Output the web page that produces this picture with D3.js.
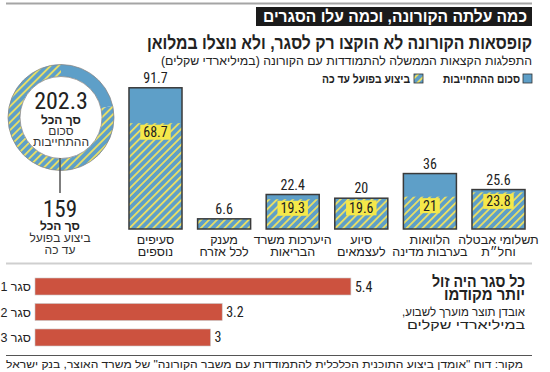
<!DOCTYPE html>
<html><head><meta charset="utf-8">
<script src="https://cdn.jsdelivr.net/npm/d3@7"></script>
<style>
html,body{margin:0;padding:0;background:#fff;}
svg{display:block;}
</style></head>
<body>
<svg id="chart" width="550" height="372"></svg>
<script>
// ---- data ----
const categories = ["תשלומי אבטלה\nוחל״ת", "הלוואות\nבערבות מדינה", "סיוע\nלעצמאים", "היערכות משרד\nהבריאות", "מענק\nלכל אזרח", "סעיפים\nנוספים"];
const commitments = [25.6, 36, 20, 22.4, 6.6, 91.7];
const executed = [23.8, 21, 19.6, 19.3, 6.6, 68.7];
const lockdowns = ["סגר 1", "סגר 2", "סגר 3"];
const weeklyLoss = [5.4, 3.2, 3];
const legendLabels = ["סכום ההתחייבות", "ביצוע בפועל עד כה"];

const HEB = "'Liberation Sans','DejaVu Sans',sans-serif";
const NUM = "'Liberation Sans Narrow','Roboto Condensed','DejaVu Sans Condensed','Liberation Sans',sans-serif";
const BLUE = "#5e9fc8", YEL = "#ebe063", LBLUE = "#f5e84a", RED = "#cc523f", DARK = "#222";

const svg = d3.select("#chart");
const defs = svg.append("defs");
const pat = defs.append("pattern").attr("id","hatch").attr("patternUnits","userSpaceOnUse")
  .attr("width",5.6).attr("height",5.6).attr("patternTransform","rotate(45)");
pat.append("rect").attr("width",5.6).attr("height",5.6).attr("fill",BLUE);
pat.append("rect").attr("x",0).attr("width",1.8).attr("height",5.6).attr("fill",YEL);

function heb(sel){ return sel.attr("direction","rtl").attr("font-family",HEB); }

// ---- header ----
svg.append("line").attr("x1",6).attr("x2",532).attr("y1",3.5).attr("y2",3.5).attr("stroke","#a5a5a5").attr("stroke-width",2);
svg.append("rect").attr("x",256).attr("y",7).attr("width",276).attr("height",19).attr("fill","#1b1b1b");
heb(svg.append("text")).attr("x",527).attr("y",22).attr("text-anchor","start")
  .attr("font-size",16.5).attr("font-weight","bold").attr("fill","#fff")
  .attr("textLength",264).attr("lengthAdjust","spacingAndGlyphs")
  .text("כמה עלתה הקורונה, וכמה עלו הסגרים");
heb(svg.append("text")).attr("x",532).attr("y",49).attr("text-anchor","start")
  .attr("font-size",18.5).attr("font-weight","bold").attr("fill",DARK)
  .attr("textLength",385).attr("lengthAdjust","spacingAndGlyphs")
  .text("קופסאות הקורונה לא הוקצו רק לסגר, ולא נוצלו במלואן");
heb(svg.append("text")).attr("x",532).attr("y",65).attr("text-anchor","start")
  .attr("font-size",12.5).attr("fill",DARK)
  .attr("textLength",371).attr("lengthAdjust","spacingAndGlyphs")
  .text("התפלגות הקצאות הממשלה להתמודדות עם הקורונה (במיליארדי שקלים)");

// ---- legend ----
svg.append("rect").attr("x",523).attr("y",74).attr("width",9).attr("height",9).attr("fill",BLUE).attr("stroke","#333").attr("stroke-width",0.8);
heb(svg.append("text")).attr("x",520).attr("y",83).attr("text-anchor","start").attr("font-size",12).attr("font-weight","bold").attr("fill",DARK)
  .attr("textLength",77).attr("lengthAdjust","spacingAndGlyphs").text(legendLabels[0]);
svg.append("rect").attr("x",414).attr("y",74).attr("width",9).attr("height",9).attr("fill","url(#hatch)").attr("stroke","#333").attr("stroke-width",0.8);
heb(svg.append("text")).attr("x",410).attr("y",83).attr("text-anchor","start").attr("font-size",12).attr("font-weight","bold").attr("fill",DARK)
  .attr("textLength",88).attr("lengthAdjust","spacingAndGlyphs").text(legendLabels[1]);

// ---- column chart ----
const x = d3.scaleBand().domain(categories).range([532.8, 121.2]).paddingInner(0.227).paddingOuter(0.1135);
const y = d3.scaleLinear().domain([0, 100]).range([229, 75]);
const rows = categories.map((c,i)=>({c, total:commitments[i], done:executed[i]}));

const g = svg.append("g");
const cols = g.selectAll("g.col").data(rows).join("g").attr("class","col");
cols.append("rect").attr("x",d=>x(d.c)).attr("width",x.bandwidth())
  .attr("y",d=>y(d.total)).attr("height",d=>y(0)-y(d.total)).attr("fill",BLUE);
cols.append("rect").attr("x",d=>x(d.c)).attr("width",x.bandwidth())
  .attr("y",d=>y(d.done)).attr("height",d=>y(0)-y(d.done)).attr("fill","url(#hatch)");
cols.append("rect").attr("x",d=>x(d.c)).attr("width",x.bandwidth())
  .attr("y",d=>y(d.total)).attr("height",d=>y(0)-y(d.total)).attr("fill","none")
  .attr("stroke","#3a3a3a").attr("stroke-width",1.5);
cols.append("text").attr("x",d=>x(d.c)+x.bandwidth()/2).attr("y",d=>y(d.total)-5)
  .attr("text-anchor","middle").attr("font-family",NUM).attr("font-size",14).attr("fill",DARK)
  .text(d=>d.total);
cols.filter(d=>d.done<d.total).each(function(d){
  const s = d3.select(this);
  const t = s.append("text").attr("x",x(d.c)+x.bandwidth()/2).attr("y",y(d.done)+14)
    .attr("text-anchor","middle").attr("font-family",NUM).attr("font-size",14).attr("fill",DARK).text(d.done);
  const w = t.node().getComputedTextLength()+6;
  s.insert("rect","text:last-of-type").attr("x",x(d.c)+x.bandwidth()/2-w/2).attr("y",y(d.done)+1.5)
    .attr("width",w).attr("height",15).attr("fill",LBLUE);
});
cols.each(function(d){
  const lines = d.c.split("\n");
  const t = heb(d3.select(this).append("text")).attr("text-anchor","middle").attr("font-size",12.5).attr("fill",DARK);
  lines.forEach((l,i)=>t.append("tspan").attr("x",x(d.c)+x.bandwidth()/2).attr("y",244+i*11.5).text(l));
});

// ---- donut ----
const totalC = +d3.sum(commitments).toFixed(1), totalE = +d3.sum(executed).toFixed(1);
const cx = 61, cy = 117.5;
const dg = svg.append("g").attr("transform",`translate(${cx},${cy})`);
const arc = d3.arc().innerRadius(41).outerRadius(53);
const remAngle = 2*Math.PI*(totalC-totalE)/totalC;
dg.append("path").attr("d",arc({startAngle:0,endAngle:remAngle})).attr("fill",BLUE);
dg.append("path").attr("d",arc({startAngle:remAngle,endAngle:2*Math.PI})).attr("fill","url(#hatch)");
dg.append("circle").attr("r",53).attr("fill","none").attr("stroke","#888").attr("stroke-width",0.8);
dg.append("circle").attr("r",41).attr("fill","#fff").attr("stroke","#888").attr("stroke-width",0.8);
svg.append("line").attr("x1",60).attr("x2",60).attr("y1",158).attr("y2",193).attr("stroke","#555").attr("stroke-width",1.5);
svg.append("text").attr("x",cx).attr("y",109).attr("text-anchor","middle").attr("font-family",NUM).attr("font-size",24).attr("fill",DARK).text(totalC);
heb(svg.append("text")).attr("x",cx).attr("y",124).attr("text-anchor","middle").attr("font-size",12).attr("font-weight","bold").attr("fill",DARK).text("סך הכל");
heb(svg.append("text")).attr("x",cx).attr("y",135).attr("text-anchor","middle").attr("font-size",12).attr("fill","#333").text("סכום");
heb(svg.append("text")).attr("x",cx).attr("y",146).attr("text-anchor","middle").attr("font-size",12).attr("fill","#333").text("ההתחייבות");
svg.append("text").attr("x",60).attr("y",217).attr("text-anchor","middle").attr("font-family",NUM).attr("font-size",23).attr("fill",DARK).text(totalE);
heb(svg.append("text")).attr("x",60).attr("y",229.5).attr("text-anchor","middle").attr("font-size",12).attr("font-weight","bold").attr("fill",DARK).text("סך הכל");
heb(svg.append("text")).attr("x",60).attr("y",242).attr("text-anchor","middle").attr("font-size",12).attr("fill","#333").text("ביצוע בפועל");
heb(svg.append("text")).attr("x",60).attr("y",254).attr("text-anchor","middle").attr("font-size",12).attr("fill","#333").text("עד כה");

// ---- separator ----
svg.append("line").attr("x1",6).attr("x2",532).attr("y1",263.5).attr("y2",263.5).attr("stroke","#cfcfcf").attr("stroke-width",2);

// ---- lockdown bars ----
const bx = d3.scaleLinear().domain([0, 6]).range([35, 386]);
const by = d3.scaleBand().domain(lockdowns).range([273.75, 350.25]).paddingInner(0.333).paddingOuter(0.1667);
const lrows = lockdowns.map((l,i)=>({l, v:weeklyLoss[i]}));
const lg = svg.append("g");
lg.selectAll("rect").data(lrows).join("rect").attr("x",bx(0)).attr("y",d=>by(d.l))
  .attr("width",d=>bx(d.v)-bx(0)).attr("height",by.bandwidth()).attr("fill",RED)
  .attr("stroke","#c9c9c9").attr("stroke-width",0.6);
lg.selectAll("text.v").data(lrows).join("text").attr("class","v").attr("x",d=>bx(d.v)+4)
  .attr("y",d=>by(d.l)+by.bandwidth()/2+5).attr("font-family",NUM).attr("font-size",14).attr("fill",DARK).text(d=>d.v);
lg.selectAll("text.l").data(lrows).join("text").attr("class","l").attr("direction","rtl").attr("font-family",HEB)
  .attr("x",31).attr("y",d=>by(d.l)+by.bandwidth()/2+4.5).attr("text-anchor","start").attr("font-size",12.5).attr("fill",DARK).text(d=>d.l);

heb(svg.append("text")).attr("x",525).attr("y",286.5).attr("text-anchor","start").attr("font-size",16).attr("font-weight","bold").attr("fill",DARK)
  .attr("textLength",93).attr("lengthAdjust","spacingAndGlyphs").text("כל סגר היה זול");
heb(svg.append("text")).attr("x",525).attr("y",300).attr("text-anchor","start").attr("font-size",16).attr("font-weight","bold").attr("fill",DARK)
  .attr("textLength",81).attr("lengthAdjust","spacingAndGlyphs").text("יותר מקודמו");
heb(svg.append("text")).attr("x",525).attr("y",316).attr("text-anchor","start").attr("font-size",12.5).attr("fill",DARK)
  .attr("textLength",123).attr("lengthAdjust","spacingAndGlyphs").text("אובדן תוצר מוערך לשבוע,");
heb(svg.append("text")).attr("x",525).attr("y",329).attr("text-anchor","start").attr("font-size",12.5).attr("fill",DARK)
  .attr("textLength",118).attr("lengthAdjust","spacingAndGlyphs").text("במיליארדי שקלים");

// ---- footer ----
svg.append("line").attr("x1",6).attr("x2",532).attr("y1",355.5).attr("y2",355.5).attr("stroke","#555").attr("stroke-width",1);
heb(svg.append("text")).attr("x",523).attr("y",368).attr("text-anchor","start").attr("font-size",10.5).attr("fill",DARK)
  .attr("textLength",517).attr("lengthAdjust","spacingAndGlyphs")
  .text("מקור: דוח \"אומדן ביצוע התוכנית הכלכלית להתמודדות עם משבר הקורונה\" של משרד האוצר, בנק ישראל");
</script>
</body></html>
